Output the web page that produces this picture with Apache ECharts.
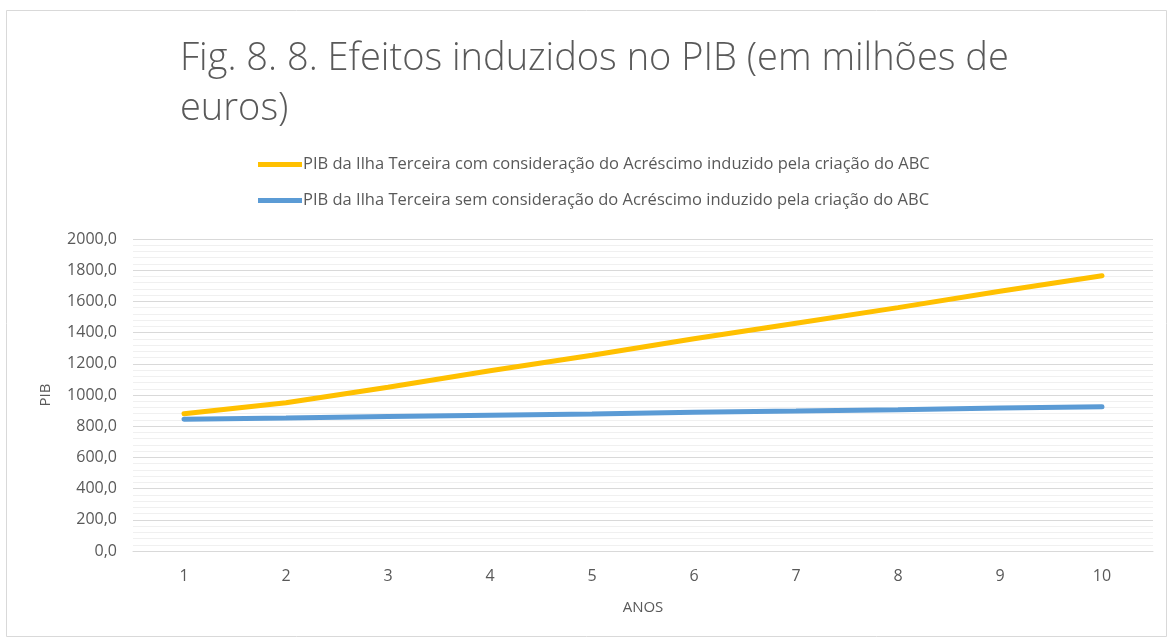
<!DOCTYPE html>
<html><head><meta charset="utf-8">
<script src="https://cdn.jsdelivr.net/npm/echarts@6/dist/echarts.min.js"></script>
<style>html,body{margin:0;padding:0;background:#fff}#c{width:1173px;height:639px}</style>
</head><body><div id="c"></div>
<script>
const titleText = 'Fig. 8. 8. Efeitos induzidos no PIB (em milhões de euros)';
const categories = ['1','2','3','4','5','6','7','8','9','10'];
const seriesNames = [
  'PIB da Ilha Terceira com consideração do Acréscimo induzido pela criação do ABC',
  'PIB da Ilha Terceira sem consideração do Acréscimo induzido pela criação do ABC'
];
const withABC = [880, 950, 1050, 1155, 1255, 1360, 1460, 1560, 1665, 1765];
const withoutABC = [845, 852, 862, 870, 878, 890, 897, 905, 917, 925];
const yAxisName = 'PIB';
const xAxisName = 'ANOS';

const chart = echarts.init(document.getElementById('c'));
const txt = '#595959';
const font = "'Open Sans', 'Noto Sans', sans-serif";
chart.setOption({
  animation: false,
  backgroundColor: '#fff',
  graphic: [{type:'rect', shape:{x:6.5,y:10.5,width:1160,height:626}, style:{fill:'none', stroke:'#d9d9d9', lineWidth:1}, silent:true}],
  title: {
    text: titleText, left: 175, top: 29,
    textStyle: {fontFamily: font, fontWeight: 300, fontSize: 38, color: txt, width: 900, overflow: 'break', lineHeight: 50}
  },
  legend: {
    orient: 'vertical', left: 253, top: 151, itemGap: 19,
    itemWidth: 44, itemHeight: 5, icon: 'rect',
    textStyle: {fontFamily: font, fontSize: 16.5, color: txt, padding: [0,0,0,-4]},
    data: seriesNames
  },
  grid: {left: 133, right: 20, top: 239, bottom: 88},
  xAxis: {
    type: 'category', data: categories, boundaryGap: true,
    name: xAxisName, nameLocation: 'middle', nameGap: 49,
    nameTextStyle: {fontFamily: font, fontSize: 15, color: txt},
    axisLine: {show: true, lineStyle: {color: '#d9d9d9'}},
    axisTick: {show: false},
    axisLabel: {fontFamily: font, fontSize: 16, color: txt, margin: 17}
  },
  yAxis: {
    type: 'value', min: 0, max: 2000, interval: 200,
    name: yAxisName, nameLocation: 'middle', nameGap: 80, nameRotate: 90,
    nameTextStyle: {fontFamily: font, fontSize: 15, color: txt},
    axisLine: {show: false}, axisTick: {show: false},
    axisLabel: {fontFamily: font, fontSize: 16, color: txt, margin: 16,
      formatter: v => v.toFixed(1).replace('.', ',')},
    splitLine: {lineStyle: {color: '#d9d9d9', width: 1}},
    minorTick: {show: false, splitNumber: 5},
    minorSplitLine: {show: true, lineStyle: {color: '#f0f0f0', width: 1}}
  },
  series: [
    {name: seriesNames[0], type: 'line', data: withABC, symbol: 'none',
     lineStyle: {color: '#FFC000', width: 5, cap: 'round'}, itemStyle: {color: '#FFC000'}},
    {name: seriesNames[1], type: 'line', data: withoutABC, symbol: 'none',
     lineStyle: {color: '#5B9BD5', width: 5, cap: 'round'}, itemStyle: {color: '#5B9BD5'}}
  ]
});
</script></body></html>
